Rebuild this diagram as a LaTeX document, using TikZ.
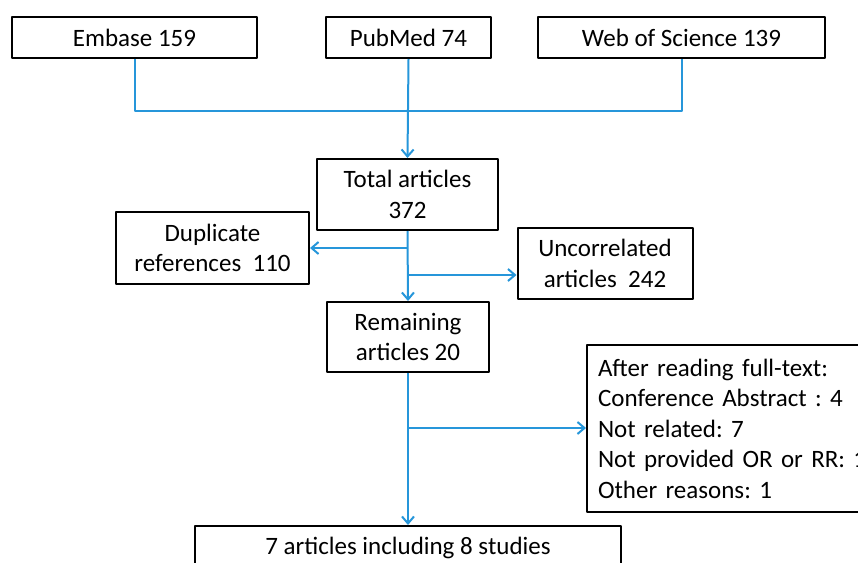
\documentclass[tikz,border=0pt]{standalone}
\usepackage{fontspec}
\setmainfont{Carlito}
\usetikzlibrary{arrows.meta}
\definecolor{flowblue}{RGB}{38,150,218}
\frenchspacing
\begin{document}
\begin{tikzpicture}[x=1pt, y=-1pt, line join=round, >={Straight Barb[length=7pt,width=12pt]},
	font=\fontsize{25}{30.5}\selectfont,
	box/.style={draw=black, line width=2pt, inner sep=0pt, align=center},
	flow/.style={draw=flowblue, line width=2pt}]
	%Khung hình.
	\useasboundingbox (0,0) rectangle (858,562);
	%Nguồn dữ liệu.
	\node[box, minimum width=245, minimum height=41] (emb) at (134.5,37.5) {Embase 159};
	\node[box, minimum width=165, minimum height=41] (pub) at (408.5,37.5) {PubMed 74};
	\node[box, minimum width=287, minimum height=41] (wos) at (681.5,37.5) {Web of Science 139};
	%Các bước lọc.
	\node[box, minimum width=181, minimum height=71] (total) at (407.5,194.5) {Total articles\\372};
	\node[box, minimum width=193, minimum height=72] (dup) at (212.5,248) {Duplicate\\references~~110};
	\node[box, minimum width=175, minimum height=71] (unc) at (605,263.5) {Uncorrelated\\articles~~242};
	\node[box, minimum width=162, minimum height=70] (rem) at (408,337) {Remaining\\articles 20};
	\node[box, anchor=west, align=left, text width=283, inner xsep=11pt, minimum height=167] (after) at (586,428.5)
		{After reading full-text:\\Conference Abstract : 4\\Not related: 7\\Not provided OR or RR: 1\\Other reasons: 1};
	\node[box, minimum width=426, minimum height=44] (final) at (408,548) {7 articles including 8 studies};
	%Điểm nối.
	\coordinate (join) at (408,111);
	\coordinate (b1) at (408,248);
	\coordinate (b2) at (408,275);
	\coordinate (b3) at (408,428);
	%Mũi tên.
	\draw[flow] (emb.south) |- (join) -| (wos.south);
	\draw[flow,->] (pub.south) -- (total.north);
	\draw[flow,->] (total.south) -- (rem.north);
	\draw[flow,->] (b1) -- (dup.east);
	\draw[flow,->] (b2) -- (b2 -| unc.west);
	\draw[flow,->] (rem.south) -- (final.north);
	\draw[flow,->] (b3) -- (b3 -| after.west);
\end{tikzpicture}
\end{document}
